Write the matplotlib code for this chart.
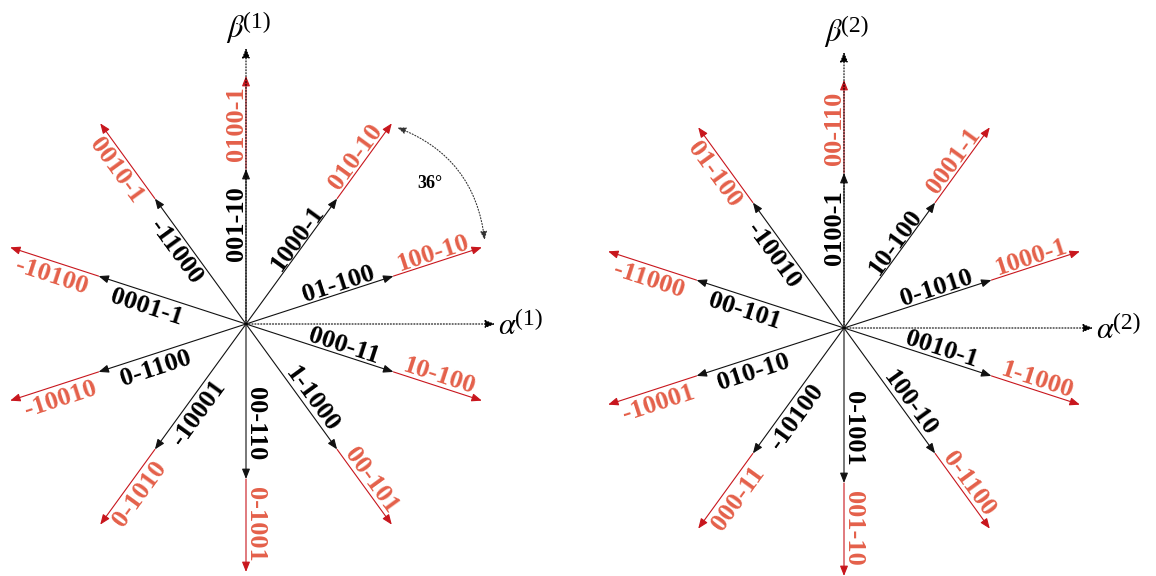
import numpy as np
import matplotlib.pyplot as plt
from matplotlib.patches import FancyArrowPatch

plt.rcParams['font.family'] = ['Liberation Serif', 'DejaVu Serif']
plt.rcParams['mathtext.fontset'] = 'stix'

# directions of the ten vectors (degrees)
angles = [90, 54, 18, -18, -54, -90, -126, -162, 162, 126]

# subspace 1
inner_1 = ['001-10', '1000-1', '01-100', '000-11', '1-1000',
           '00-110', '-10001', '0-1100', '0001-1', '-11000']
outer_1 = ['0100-1', '010-10', '100-10', '10-100', '00-101',
           '0-1001', '0-1010', '-10010', '-10100', '0010-1']
# subspace 2
inner_2 = ['0100-1', '10-100', '0-1010', '0010-1', '100-10',
           '0-1001', '-10100', '010-10', '00-101', '-10010']
outer_2 = ['00-110', '0001-1', '1000-1', '1-1000', '0-1100',
           '001-10', '000-11', '-10001', '-11000', '01-100']

W, H = 1156, 576
R_IN, R_OUT = 155, 248
BLACK = '#111111'
RED_LINE = '#c8161d'
RED_TXT = '#e4604a'
HEAD = '-|>,head_length=0.5,head_width=0.2'


def arrow(ax, p0, p1, color, ls='-', lw=0.8, z=2):
    a = FancyArrowPatch(p0, p1, arrowstyle=HEAD, mutation_scale=12,
                        color=color, lw=lw, linestyle=ls,
                        shrinkA=0, shrinkB=0, zorder=z)
    ax.add_patch(a)


def label(ax, cx, cy, ang, r, s, color):
    t = np.deg2rad(ang)
    d = np.array([np.cos(t), np.sin(t)])
    n = np.array([-np.sin(t), np.cos(t)])  # ccw side
    if abs(ang) <= 90:
        rot, off = ang, 3
    else:
        rot, off = ang - 180, 21
    x, y = np.array([cx, cy]) + r * d + off * n
    ax.text(x, y, s, rotation=rot, rotation_mode='anchor', ha='center',
            va='baseline', fontsize=19, color=color, fontweight='bold')


def axis_name(ax, x, y, sym, k):
    ax.text(x, y, r'$\%s$' % sym, fontsize=22, ha='left', va='baseline')
    ax.text(x + 17, y + 9, '(%d)' % k, fontsize=17, ha='left', va='baseline')


def star(ax, cx, cy, inner, outer, k):
    for ang, si, so in zip(angles, inner, outer):
        t = np.deg2rad(ang)
        d = np.array([np.cos(t), np.sin(t)])
        c = np.array([cx, cy])
        arrow(ax, tuple(c), tuple(c + R_IN * d), BLACK)
        arrow(ax, tuple(c + R_IN * d), tuple(c + R_OUT * d), RED_LINE)
        label(ax, cx, cy, ang, 100, si, 'black')
        label(ax, cx, cy, ang, 200, so, RED_TXT)
    # dotted alpha / beta axes
    arrow(ax, (cx, cy), (cx + 249, cy), 'black', ls=':', lw=0.8, z=3)
    arrow(ax, (cx, cy), (cx, cy + 276), 'black', ls=':', lw=0.8, z=3)
    axis_name(ax, cx + 252, cy - 10, 'alpha', k)
    axis_name(ax, cx - 20, cy + 287, 'beta', k)


fig = plt.figure(figsize=(W / 100, H / 100), dpi=100)
ax = fig.add_axes([0, 0, 1, 1])
ax.set_xlim(0, W)
ax.set_ylim(0, H)
ax.axis('off')

c1 = (246, 252)
c2 = (844, 248)
star(ax, c1[0], c1[1], inner_1, outer_1, 1)
star(ax, c2[0], c2[1], inner_2, outer_2, 2)

# 36 degree marker between two outer vectors
a0, a1 = np.deg2rad(52.4), np.deg2rad(19.4)
p0 = (c1[0] + 248 * np.cos(a0), c1[1] + 248 * np.sin(a0))
p1 = (c1[0] + 253 * np.cos(a1), c1[1] + 253 * np.sin(a1))
arc = FancyArrowPatch(p0, p1, arrowstyle='<|-|>,head_length=0.5,head_width=0.2',
                      mutation_scale=10, connectionstyle='arc3,rad=-0.3',
                      color='#333333', lw=0.8, linestyle=':', shrinkA=0, shrinkB=0)
ax.add_patch(arc)
ax.text(c1[0] + 184, c1[1] + 141, '36°', fontsize=13, fontweight='bold',
        ha='center', va='center')

fig.savefig('out.png', dpi=100)
